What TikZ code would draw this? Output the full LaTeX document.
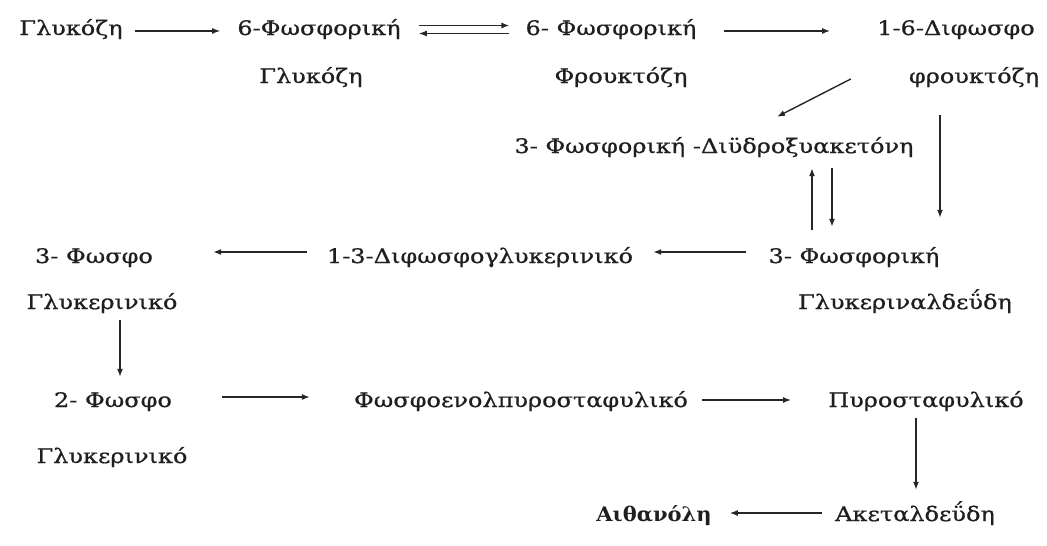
\documentclass[tikz,border=0pt]{standalone}
\usepackage{fontspec}
\setmainfont{DejaVu Serif}
\newfontfamily\grfont{DejaVu Serif}[FakeStretch=1.2, FakeBold=0.8]
\newfontfamily\grbold{DejaVu Serif}[FakeStretch=1.05]
\usetikzlibrary{arrows.meta}
\begin{document}
\begin{tikzpicture}[x=1pt,y=-1pt,
  txt/.style={font=\grfont\fontsize{20}{24}\selectfont, text=black!88, inner sep=0pt,
    text height=16pt, text depth=2pt, anchor=base},
  strong/.style={txt, font=\grbold\bfseries\fontsize{20}{24}\selectfont},
  arr/.style={draw=black!85, line width=1.4pt, -{Latex[length=8pt,width=6pt]}}]
\useasboundingbox (0,0) rectangle (1047,546);

% compounds of the pathway
\node[txt] (glu)  at (71,35)  {Γλυκόζη};
\node[txt] (g6p)  at (319,35) {6-Φωσφορική};
\node[txt] (g6pb) at (311,83) {Γλυκόζη};
\node[txt] (f6p)  at (611,35) {6- Φωσφορική};
\node[txt] (f6pb) at (621,83) {Φρουκτόζη};
\node[txt] (fbp)  at (956,35) {1-6-Διφωσφο};
\node[txt] (fbpb) at (974,83) {φρουκτόζη};
\node[txt] (dhap) at (714,153) {3- Φωσφορική -Διϋδροξυακετόνη};
\node[txt] (gap)  at (854,263) {3- Φωσφορική};
\node[txt] (gapb) at (905,309) {Γλυκεριναλδεΰδη};
\node[txt] (bpg)  at (480,263) {1-3-Διφωσφογλυκερινικό};
\node[txt] (pg3)  at (94,263)  {3- Φωσφο};
\node[txt] (pg3b) at (102,309) {Γλυκερινικό};
\node[txt] (pg2)  at (113,407) {2- Φωσφο};
\node[txt] (pg2b) at (112,463) {Γλυκερινικό};
\node[txt] (pep)  at (521,407) {Φωσφοενολπυροσταφυλικό};
\node[txt] (pyr)  at (926,407) {Πυροσταφυλικό};
\node[txt] (acet) at (915,521) {Ακεταλδεΰδη};
\node[strong] (eth) at (654,521) {Αιθανόλη};

% reaction arrows
\draw[arr, shorten <=12pt, shorten >=17pt] ([yshift=-3pt]glu.east) -- ([yshift=-3pt]g6p.west);
\draw[arr, shorten <=18pt, shorten >=16pt] ([yshift=2.5pt]g6p.east) -- ([yshift=2.5pt]f6p.west);
\draw[arr, shorten <=16pt, shorten >=18pt] ([yshift=-5.5pt]f6p.west) -- ([yshift=-5.5pt]g6p.east);
\draw[arr, shorten <=27pt, shorten >=47pt] ([yshift=-3pt]f6p.east) -- ([yshift=-3pt]fbp.west);
\draw[arr] ([shift={(-58pt,-3pt)}]fbpb.west) -- ([shift={(63pt,20pt)}]dhap.north);

\coordinate (rvx) at ([xshift=-34pt]fbpb.south);
\draw[arr, shorten <=30pt, shorten >=29pt] (rvx) -- (rvx |- gap.north);

\coordinate (upx) at ([xshift=-42pt]gap.north);
\coordinate (dnx) at ([xshift=-22pt]gap.north);
\draw[arr, shorten <=17pt, shorten >=13pt] (upx) -- (upx |- dhap.south);
\draw[arr, shorten <=13pt, shorten >=20pt] (dnx |- dhap.south) -- (dnx);

\draw[arr, shorten <=22pt, shorten >=20pt] ([yshift=4pt]gap.west) -- ([yshift=4pt]bpg.east);
\draw[arr, shorten <=20pt, shorten >=60pt] ([yshift=4pt]bpg.west) -- ([yshift=4pt]pg3.east);

\coordinate (vdx) at ([xshift=18pt]pg3b.south);
\draw[arr, shorten <=9pt, shorten >=14pt] (vdx) -- (vdx |- pg2.north);

\draw[arr, shorten <=50pt, shorten >=44pt] ([yshift=3pt]pg2.east) -- ([yshift=3pt]pep.west);
\draw[arr, shorten <=14pt, shorten >=37pt] (pep.east) -- (pyr.west);

\coordinate (vpx) at ([xshift=-10pt]pyr.south);
\draw[arr, shorten <=9pt, shorten >=15pt] (vpx) -- (vpx |- acet.north);

\draw[arr, shorten <=13pt, shorten >=18pt] ([yshift=1pt]acet.west) -- ([yshift=1pt]eth.east);
\end{tikzpicture}
\end{document}
